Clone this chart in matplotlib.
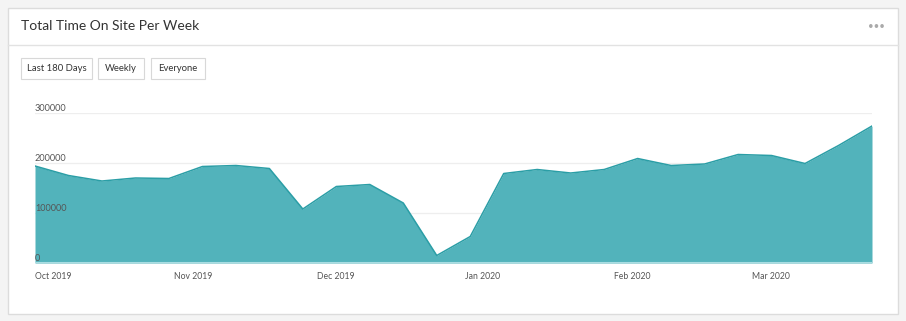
import matplotlib
matplotlib.use("Agg")
import matplotlib.pyplot as plt
from matplotlib.patches import Rectangle
import pandas as pd

plt.rcParams['font.family'] = ['Lato', 'DejaVu Sans']

# ---- data ----
start_date = "2019-10-03"
values = [194000, 175000, 164000, 170000, 169000, 193000, 195000, 189000,
          108000, 153000, 157000, 120000, 15000, 53000, 179000, 187000,
          180000, 187000, 209000, 195000, 198000, 217000, 215000, 199000,
          235000, 274000]
y_ticks = [0, 100000, 200000, 300000]
y_tick_labels = ["0", "100000", "200000", "300000"]
month_ticks = ["2019-10-03", "2019-11-01", "2019-12-01", "2020-01-01", "2020-02-01", "2020-03-01"]
month_labels = ["Oct 2019", "Nov 2019", "Dec 2019", "Jan 2020", "Feb 2020", "Mar 2020"]
title = "Total Time On Site Per Week"
buttons = ["Last 180 Days", "Weekly", "Everyone"]

dates = pd.date_range(start_date, periods=len(values), freq="7D")

W, H = 906, 321
fig = plt.figure(figsize=(W / 100, H / 100), dpi=100)
fig.patch.set_facecolor("#f4f4f4")

def fx(px):
    return px / W

def fy(py):
    return 1 - py / H

# card
card = Rectangle((fx(7.5), fy(314)), fx(898) - fx(7.5), fy(7.5) - fy(314),
                 transform=fig.transFigure, facecolor="white", edgecolor="#dcdcdc",
                 linewidth=1, zorder=-5)
fig.patches.append(card)
fig.add_artist(plt.Line2D([fx(8), fx(897.5)], [fy(45), fy(45)], transform=fig.transFigure,
                          color="#e2e2e2", linewidth=1, zorder=-4))

fig.text(fx(21), fy(26), title, fontsize=10, color="#333333", va="center", ha="left")
fig.text(fx(876), fy(26), "•••", fontsize=7, color="#aaaaaa", va="center", ha="center")

# buttons
btn_boxes = [(21, 92), (98, 144), (151, 205)]
for (x0, x1), label in zip(btn_boxes, buttons):
    r = Rectangle((fx(x0), fy(79)), fx(x1) - fx(x0), fy(58) - fy(79), transform=fig.transFigure,
                  facecolor="white", edgecolor="#d8d8d8", linewidth=0.8, zorder=-3)
    fig.patches.append(r)
    fig.text(fx((x0 + x1) / 2), fy(68.5), label, fontsize=6.8, color="#333333",
             ha="center", va="center")

# chart axes
ax = fig.add_axes([fx(35), fy(263), fx(872) - fx(35), fy(113) - fy(263)])
ax.set_zorder(2)
ax.set_facecolor("none")
ax.set_xlim(dates[0], dates[-1])
ax.set_ylim(0, 300000)

for t in y_ticks:
    ax.axhline(t, color="#eeeeee", linewidth=0.9, zorder=0)

ax.fill_between(dates, values, 0, color="#52b3bb", linewidth=0, zorder=2)
ax.plot(dates, values, color="#2b9ea6", linewidth=1.1, zorder=3)
ax.axhline(0, color="#a9dde2", linewidth=1.5, zorder=3)

for t, lab in zip(y_ticks, y_tick_labels):
    ax.text(0, t, lab, transform=ax.get_yaxis_transform(), fontsize=6.6, color="#555555",
            ha="left", va="bottom", zorder=5)

ax.set_yticks([])
ax.set_xticks(pd.to_datetime(month_ticks))
ax.set_xticklabels(month_labels, fontsize=6.2, color="#555555", ha="left")
ax.tick_params(axis="x", length=0, pad=6.5)
for s in ax.spines.values():
    s.set_visible(False)

fig.savefig("out.png", dpi=100, facecolor=fig.get_facecolor())
